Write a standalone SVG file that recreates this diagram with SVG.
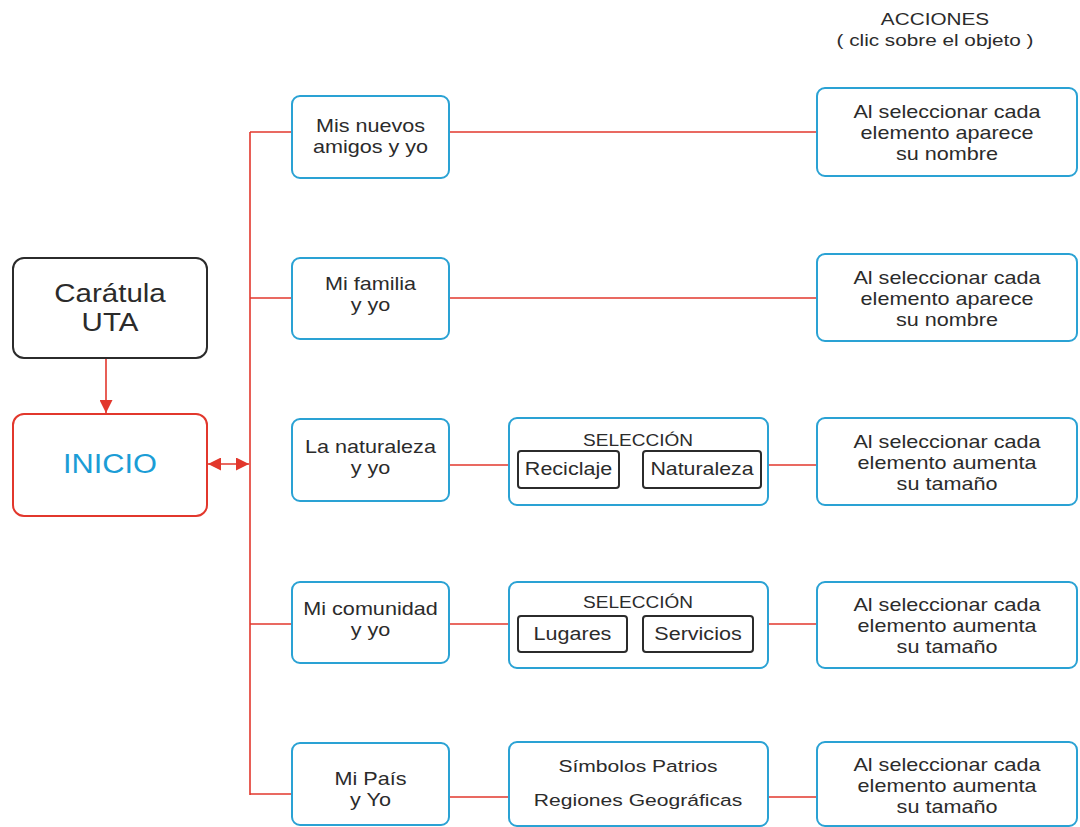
<svg xmlns="http://www.w3.org/2000/svg" width="1080" height="827" viewBox="0 0 1080 827">
<defs>
<style>
text{font-family:"Liberation Sans",Arial,"DejaVu Sans",sans-serif;fill:#2b2b2b;text-anchor:middle}
.blue{fill:#fff;stroke:#2aa2d4;stroke-width:2}
.dark{fill:#fff;stroke:#2b2b2b;stroke-width:2}
.redbox{fill:#fff;stroke:#e2372c;stroke-width:2}
.ln{stroke:#e2372c;stroke-width:1.6;fill:none}
.act{font-size:18px}
.mid{font-size:18px}
.sel{font-size:17px}
.inner{font-size:17.5px}
</style>
<marker id="ah" viewBox="0 0 10 10" refX="10" refY="5" markerWidth="13" markerHeight="13" markerUnits="userSpaceOnUse" orient="auto-start-reverse">
<path d="M0,0 L10,5 L0,10 z" fill="#e2372c"/>
</marker>
</defs>
<rect width="1080" height="827" fill="#fff"/>

<g id="connectors">
<line class="ln" x1="106" y1="359" x2="106" y2="413" marker-end="url(#ah)"/>
<line class="ln" x1="208" y1="464" x2="249" y2="464" marker-start="url(#ah)" marker-end="url(#ah)"/>
<line class="ln" x1="250" y1="132" x2="250" y2="795" stroke-width="2.2"/>
<line class="ln" x1="250" y1="132" x2="292" y2="132"/>
<line class="ln" x1="250" y1="298" x2="292" y2="298"/>
<line class="ln" x1="250" y1="624" x2="292" y2="624"/>
<line class="ln" x1="250" y1="794" x2="292" y2="794"/>
<line class="ln" x1="449" y1="132" x2="817" y2="132"/>
<line class="ln" x1="449" y1="298" x2="817" y2="298"/>
<line class="ln" x1="449" y1="465" x2="509" y2="465"/>
<line class="ln" x1="768" y1="465" x2="817" y2="465"/>
<line class="ln" x1="449" y1="624" x2="509" y2="624"/>
<line class="ln" x1="768" y1="624" x2="817" y2="624"/>
<line class="ln" x1="449" y1="797" x2="509" y2="797"/>
<line class="ln" x1="768" y1="797" x2="817" y2="797"/>
</g>

<g id="acciones-title">
<text font-size="17" transform="translate(935 0) scale(1.22 1)" x="0" y="25"><tspan x="0">ACCIONES</tspan><tspan x="0" dy="21">( clic sobre el objeto )</tspan></text>
</g>

<g id="caratula">
<rect class="dark" x="13" y="258" width="194" height="100" rx="11"/>
<text font-size="25" transform="translate(110 0) scale(1.18 1)" x="0" y="302"><tspan x="0">Carátula</tspan><tspan x="0" dy="29">UTA</tspan></text>
</g>

<g id="inicio">
<rect class="redbox" x="13" y="414" width="194" height="102" rx="11"/>
<text font-size="28" transform="translate(110 0) scale(1.1 1)" x="0" y="473" style="fill:#1b9dd6">INICIO</text>
</g>

<g id="n1">
<rect class="blue" x="292" y="96" width="157" height="82" rx="8"/>
<text class="mid" transform="translate(370.5 0) scale(1.2 1)" x="0" y="132"><tspan x="0">Mis nuevos</tspan><tspan x="0" dy="21">amigos y yo</tspan></text>
</g>
<g id="n2">
<rect class="blue" x="292" y="258" width="157" height="81" rx="8"/>
<text class="mid" transform="translate(370.5 0) scale(1.2 1)" x="0" y="290"><tspan x="0">Mi familia</tspan><tspan x="0" dy="21">y yo</tspan></text>
</g>
<g id="n3">
<rect class="blue" x="292" y="419" width="157" height="82" rx="8"/>
<text class="mid" transform="translate(370.5 0) scale(1.2 1)" x="0" y="453"><tspan x="0">La naturaleza</tspan><tspan x="0" dy="21">y yo</tspan></text>
</g>
<g id="n4">
<rect class="blue" x="292" y="582" width="157" height="81" rx="8"/>
<text class="mid" transform="translate(370.5 0) scale(1.2 1)" x="0" y="615"><tspan x="0">Mi comunidad</tspan><tspan x="0" dy="21">y yo</tspan></text>
</g>
<g id="n5">
<rect class="blue" x="292" y="743" width="157" height="82" rx="8"/>
<text class="mid" transform="translate(370.5 0) scale(1.2 1)" x="0" y="785"><tspan x="0">Mi País</tspan><tspan x="0" dy="21">y Yo</tspan></text>
</g>

<g id="sel3">
<rect class="blue" x="509" y="418" width="259" height="87" rx="8"/>
<text class="sel" transform="translate(638 0) scale(1.12 1)" x="0" y="446">SELECCIÓN</text>
<g id="reciclaje">
<rect class="dark" x="518" y="451" width="101" height="37" rx="3"/>
<text class="inner" transform="translate(568.5 0) scale(1.23 1)" x="0" y="475">Reciclaje</text>
</g>
<g id="naturaleza">
<rect class="dark" x="643" y="451" width="118" height="37" rx="3"/>
<text class="inner" transform="translate(702 0) scale(1.22 1)" x="0" y="475">Naturaleza</text>
</g>
</g>

<g id="sel4">
<rect class="blue" x="509" y="582" width="259" height="86" rx="8"/>
<text class="sel" transform="translate(638 0) scale(1.12 1)" x="0" y="608">SELECCIÓN</text>
<g id="lugares">
<rect class="dark" x="518" y="616" width="109" height="36" rx="3"/>
<text class="inner" transform="translate(572.5 0) scale(1.23 1)" x="0" y="640">Lugares</text>
</g>
<g id="servicios">
<rect class="dark" x="643" y="616" width="110" height="36" rx="3"/>
<text class="inner" transform="translate(698 0) scale(1.23 1)" x="0" y="640">Servicios</text>
</g>
</g>

<g id="sel5">
<rect class="blue" x="509" y="742" width="259" height="84" rx="8"/>
<text class="sel" transform="translate(638 0) scale(1.24 1)" x="0" y="772"><tspan x="0">Símbolos Patrios</tspan><tspan x="0" dy="34">Regiones Geográficas</tspan></text>
</g>

<g id="a1">
<rect class="blue" x="817" y="88" width="260" height="88" rx="8"/>
<text class="act" transform="translate(947 0) scale(1.2 1)" x="0" y="118"><tspan x="0">Al seleccionar cada</tspan><tspan x="0" dy="21">elemento aparece</tspan><tspan x="0" dy="21">su nombre</tspan></text>
</g>
<g id="a2">
<rect class="blue" x="817" y="254" width="260" height="87" rx="8"/>
<text class="act" transform="translate(947 0) scale(1.2 1)" x="0" y="284"><tspan x="0">Al seleccionar cada</tspan><tspan x="0" dy="21">elemento aparece</tspan><tspan x="0" dy="21">su nombre</tspan></text>
</g>
<g id="a3">
<rect class="blue" x="817" y="418" width="260" height="87" rx="8"/>
<text class="act" transform="translate(947 0) scale(1.2 1)" x="0" y="448"><tspan x="0">Al seleccionar cada</tspan><tspan x="0" dy="21">elemento aumenta</tspan><tspan x="0" dy="21">su tamaño</tspan></text>
</g>
<g id="a4">
<rect class="blue" x="817" y="582" width="260" height="86" rx="8"/>
<text class="act" transform="translate(947 0) scale(1.2 1)" x="0" y="611"><tspan x="0">Al seleccionar cada</tspan><tspan x="0" dy="21">elemento aumenta</tspan><tspan x="0" dy="21">su tamaño</tspan></text>
</g>
<g id="a5">
<rect class="blue" x="817" y="742" width="260" height="84" rx="8"/>
<text class="act" transform="translate(947 0) scale(1.2 1)" x="0" y="771"><tspan x="0">Al seleccionar cada</tspan><tspan x="0" dy="21">elemento aumenta</tspan><tspan x="0" dy="21">su tamaño</tspan></text>
</g>
</svg>
